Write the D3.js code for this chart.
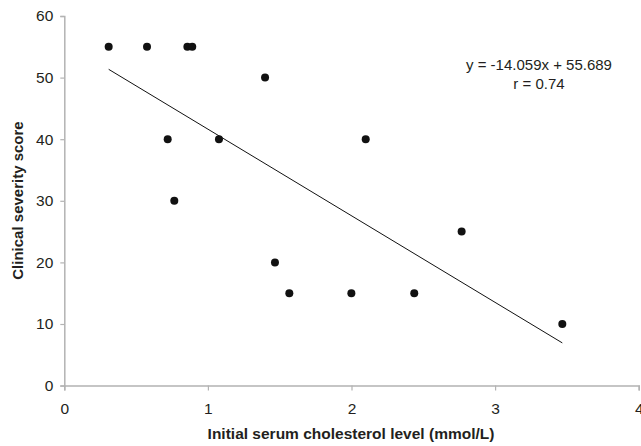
<!DOCTYPE html>
<html><head><meta charset="utf-8">
<script src="https://cdn.jsdelivr.net/npm/d3@7"></script>
<style>body{margin:0;background:#fff}svg{display:block}</style>
</head><body>
<script>
const cholesterol = [0.309,0.576,0.857,0.891,0.72,0.766,1.077,1.398,2.099,1.467,1.567,1.999,2.437,2.767,3.468];
const severity    = [55,55,55,55,40,30,40,50,40,20,15,15,15,25,10];
const xTicks = [0,1,2,3,4];
const yTicks = [0,10,20,30,40,50,60];
const slope = -14.059, intercept = 55.689;
const eqLabel = "y = -14.059x + 55.689";
const rLabel = "r = 0.74";
const xTitle = "Initial serum cholesterol level (mmol/L)";
const yTitle = "Clinical severity score";

const W = 641, H = 446;
const svg = d3.select("body").append("svg").attr("width", W).attr("height", H);
const x = d3.scaleLinear().domain([0,4]).range([64.3,638.7]);
const y = d3.scaleLinear().domain([0,60]).range([385.6,16]);
const font = "Liberation Sans, Arial, sans-serif";
const axisCol = "#b3b3b3", textCol = "#231f20";

const xa = svg.append("g").attr("transform",`translate(0,${y(0)})`)
  .call(d3.axisBottom(x).tickValues(xTicks).tickFormat(d3.format("d")).tickSize(5).tickPadding(12));
const ya = svg.append("g").attr("transform",`translate(${x(0)},0)`)
  .call(d3.axisLeft(y).tickValues(yTicks).tickFormat(d3.format("d")).tickSize(4).tickPadding(7));
[xa,ya].forEach(g=>{
  g.select(".domain").attr("stroke",axisCol).attr("stroke-width",1.5);
  g.selectAll(".tick line").attr("stroke",axisCol).attr("stroke-width",1.2);
  g.selectAll(".tick text").attr("fill",textCol).style("font-family",font).style("font-size","15.5px");
});

const x0 = d3.min(cholesterol), x1 = d3.max(cholesterol);
svg.append("line")
  .attr("x1",x(x0)).attr("y1",y(slope*x0+intercept))
  .attr("x2",x(x1)).attr("y2",y(slope*x1+intercept))
  .attr("stroke","#111").attr("stroke-width",1);

svg.append("g").selectAll("circle").data(cholesterol).join("circle")
  .attr("cx",(d)=>x(d)).attr("cy",(d,i)=>y(severity[i])).attr("r",4).attr("fill","#111");

svg.append("text").attr("x",539).attr("y",70).attr("text-anchor","middle")
  .attr("fill",textCol).style("font-family",font).style("font-size","15px").text(eqLabel);
svg.append("text").attr("x",539).attr("y",89).attr("text-anchor","middle")
  .attr("fill",textCol).style("font-family",font).style("font-size","15px").text(rLabel);

svg.append("text").attr("x",351).attr("y",439).attr("text-anchor","middle")
  .attr("fill",textCol).style("font-family",font).style("font-size","15.5px").style("font-weight","bold").text(xTitle);
svg.append("text").attr("transform","translate(23,200.5) rotate(-90)").attr("text-anchor","middle")
  .attr("fill",textCol).style("font-family",font).style("font-size","15px").style("font-weight","bold").text(yTitle);
</script>
</body></html>
